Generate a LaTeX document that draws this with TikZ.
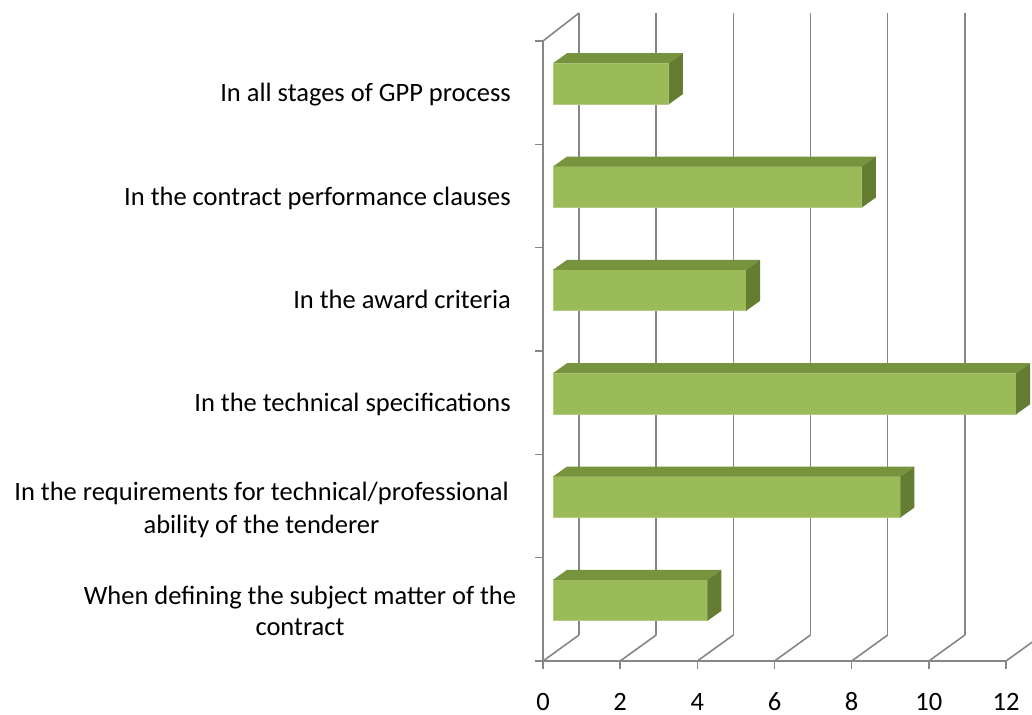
\documentclass[tikz,border=0pt]{standalone}
\usepackage{fontspec}
\setmainfont{Carlito}
\definecolor{gridgray}{RGB}{134,134,134}
\definecolor{barfront}{RGB}{155,187,89}
\definecolor{bartop}{RGB}{119,147,61}
\definecolor{barside}{RGB}{100,125,50}
\definecolor{baredge}{RGB}{178,203,128}
\tikzset{
  grid line/.style={draw=gridgray, line width=1.6pt},
  lbl/.style={font=\fontsize{26.5}{33}\selectfont, inner sep=0pt, text=black},
  num/.style={font=\fontsize{26.5}{33}\selectfont, inner sep=0pt, text=black, anchor=base},
}
\begin{document}
\begin{tikzpicture}[x=1pt, y=-1pt]
\useasboundingbox (0,0) rectangle (1032,714);
\clip (0,0) rectangle (1032,714);
% back wall gridlines
\foreach \k in {0,...,6} {
  \draw[grid line] (579+77.17*\k,13) -- (579+77.17*\k,635);
  \draw[grid line] (543+77.17*\k,661) -- (579+77.17*\k,635);
  \draw[grid line] (543+77.17*\k,661) -- (543+77.17*\k,669);
}
% left wall top edge
\draw[grid line] (543,41) -- (579,13);
% vertical axis
\draw[grid line] (543,41) -- (543,661);
\foreach \k in {0,...,6} {
  \draw[grid line] (535,41+103.33*\k) -- (543,41+103.33*\k);
}
% horizontal axis
\draw[grid line] (535,661) -- (1006,661);
% bars
\foreach \v [count=\i from 0] in {3,8,5,12,9,4} {
  \pgfmathsetmacro{\c}{83.7+103.33*\i}
  \pgfmathsetmacro{\r}{553+38.6*\v}
  \fill[barfront] (553,\c-20.5) rectangle (\r,\c+20.5);
  \draw[baredge, line width=0.8pt] (553,\c-20.5) rectangle (\r,\c+20.5);
  \fill[bartop] (553,\c-20.5) -- (567,\c-30.5) -- (\r+14,\c-30.5) -- (\r,\c-20.5) -- cycle;
  \fill[barside] (\r,\c-20.5) -- (\r+14,\c-30.5) -- (\r+14,\c+10.5) -- (\r,\c+20.5) -- cycle;
}
% category labels
\node[lbl, anchor=base east] (l1) at (511,102) {In all stages of GPP process};
\node[lbl, anchor=base east] (l2) at (511,205) {In the contract performance clauses};
\node[lbl, anchor=base east] (l3) at (511,308) {In the award criteria};
\node[lbl, anchor=base east] (l4) at (511,411) {In the technical specifications};
\node[lbl, anchor=base] (l5a) at (261.5,500) {In the requirements for technical/professional};
\node[lbl, anchor=base] (l5b) at (261.5,533) {ability of the tenderer};
\node[lbl, anchor=base] (l6a) at (300,604) {When defining the subject matter of the};
\node[lbl, anchor=base] (l6b) at (300,635) {contract};
% axis numbers
\foreach \n [count=\k from 0] in {0,2,4,6,8,10,12} {
  \node[num] (n\k) at (543+77.17*\k,710.5) {\n};
}
\end{tikzpicture}
\end{document}
